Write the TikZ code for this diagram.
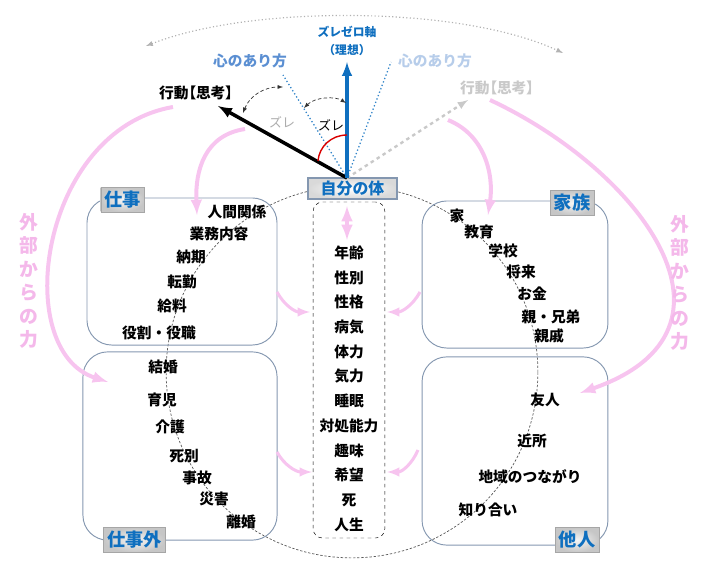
\documentclass[tikz,border=0pt]{standalone}
\usepackage{fontspec}
\setmainfont{Noto Sans CJK JP}

\definecolor{ideal}{HTML}{0F6FBF}
\definecolor{mindA}{HTML}{5B8FD2}
\definecolor{mindB}{HTML}{B7CDEA}
\definecolor{boxline}{HTML}{8497B0}
\definecolor{pinkforce}{HTML}{F7C4EF}
\definecolor{pinktext}{HTML}{F4B8EA}
\definecolor{ghost}{HTML}{C9C9C9}

\begin{document}
\begin{tikzpicture}[
		x = 0.85pt, y = -0.85pt,
		item/.style = { font = \bfseries\fontsize{12.5}{14}\selectfont },
		groupbox/.style = { draw = boxline, rounded corners = 21pt, line width = 0.8pt },
		tagbox/.style = { draw = gray!70, inner color = gray!8, outer color = gray!45, text = ideal,
			font = \bfseries\fontsize{15.5}{17}\selectfont, minimum height = 21pt, inner xsep = 3pt, inner ysep = 1pt },
		force/.style = { draw = pinkforce, line width = 3.4pt, -latex },
		push/.style = { draw = pinkforce, line width = 2.6pt, -latex },
		sidetext/.style = { text = pinktext, font = \bfseries\fontsize{16}{20}\selectfont, align = center },
		acting/.style = { font = \bfseries\fontsize{12.5}{14}\selectfont\addfontfeature{RawFeature = +palt} }
	]
	\useasboundingbox (0,0) rectangle (709,567);

	\coordinate (swingl) at (146,46);
	\coordinate (swingr) at (563,53);
	\draw [gray!60, dotted, line width = 1pt, latex-latex] (swingl) .. controls (250,5) and (460,5) .. (swingr);

	\draw [black!65, dash pattern = on 2pt off 1.5pt, line width = 0.6pt] (352,372) circle [radius = 158pt];

	\node [groupbox, minimum width = 161.5pt, minimum height = 125pt] (work) at (182,271.5) {};
	\node [groupbox, minimum width = 165pt, minimum height = 160pt] (private) at (180,446) {};
	\node [groupbox, minimum width = 158pt, minimum height = 125pt] (family) at (515,274.5) {};
	\node [groupbox, minimum width = 158pt, minimum height = 160pt] (others) at (515,451) {};

	\node [tagbox] (worktag) at (122.5,199.5) { 仕事 };
	\node [tagbox] (privatetag) at (134.5,540) { 仕事外 };
	\node [tagbox] (familytag) at (572,203) { 家族 };
	\node [tagbox] (otherstag) at (577,540) { 他人 };

	\node [draw, dashed, rounded corners = 8pt, minimum width = 61pt, minimum height = 285.6pt] (self) at (349,370) {};
	\node [draw = boxline, line width = 1pt, inner color = white, outer color = gray!30, text = ideal,
		font = \bfseries\fontsize{13.5}{15}\selectfont, minimum width = 75.6pt, minimum height = 17.9pt,
		inner sep = 0pt] (body) at (352.5,188.5) { 自分の体 };

	\coordinate (o) at (347,178);
	\coordinate (zero) at (347,62);
	\coordinate (mindl) at (283,75);
	\coordinate (mindr) at (391,62);
	\coordinate (act) at (218,106);
	\coordinate (actr) at (468,100);

	\draw [ideal!85, dotted, line width = 1.1pt] (o) -- (mindl);
	\draw [ideal!85, dotted, line width = 1.1pt] (o) -- (mindr);
	\draw [ghost, dashed, line width = 2pt, -latex] (o) -- (actr);
	\draw [line width = 3pt, -latex] (o) -- (act);
	\draw [ideal, line width = 3pt, -latex] (o) -- (zero);

	\node [text = ideal, font = \bfseries\fontsize{10}{15}\selectfont, align = center] (zerotext) at (347,41) { ズレゼロ軸\\（理想） };
	\node [text = mindA, font = \bfseries\fontsize{12.5}{14}\selectfont] (mindltext) at (250,61) { 心のあり方 };
	\node [text = mindB, font = \bfseries\fontsize{12.5}{14}\selectfont] (mindrtext) at (435,61) { 心のあり方 };
	\node [acting] (acttext) at (196,93) { 行動【思考】 };
	\node [acting, text = ghost] (actrtext) at (497,88) { 行動【思考】 };

	\coordinate (gapla) at (243,113);
	\coordinate (gaplb) at (283,87);
	\coordinate (gapa) at (304,108);
	\coordinate (gapb) at (346,103);
	\draw [black!80, densely dashed, line width = 0.6pt, latex-latex] (gapla) .. controls (250,95) and (265,87) .. (gaplb);
	\draw [black!80, densely dashed, line width = 0.6pt, latex-latex] (gapa) .. controls (315,97) and (335,96) .. (gapb);
	\node [text = gray!65, font = \fontsize{11}{13}\selectfont] (gapltext) at (282,122) { ズレ };
	\node [font = \fontsize{11}{13}\selectfont] (gaptext) at (331,125) { ズレ };

	\coordinate (reda) at (347,135);
	\coordinate (redb) at (318,161);
	\draw [red!85!black, line width = 1.2pt] (reda) .. controls (331,135) and (319,147) .. (redb);

	\coordinate (lifta) at (347,206);
	\coordinate (liftb) at (347,240);
	\draw [pinkforce, line width = 3.4pt, latex-latex] (lifta) -- (liftb);

	\foreach \txt [count = \i] in { 年齢, 性別, 性格, 病気, 体力, 気力, 睡眠, 対処能力, 趣味, 希望, 死, 人生 }
		\node [item] (c\i) at (349,228.3+24.7*\i) { \txt };

	\foreach \txt/\px/\py [count = \i] in { 人間関係/237/212, 業務内容/219/234, 納期/191/257, 転勤/182/282, 給料/172/306, 役割・役職/159/333 }
		\node [item] (w\i) at (\px,\py) { \txt };
	\foreach \txt/\px/\py [count = \i] in { 結婚/163/367, 育児/162/400, 介護/170/427, 死別/184/456, 事故/197/478, 災害/214/499, 離婚/241/522 }
		\node [item] (p\i) at (\px,\py) { \txt };
	\foreach \txt/\px/\py [count = \i] in { 家/457/216, 教育/479/232, 学校/503/251, 将来/521/272, お金/532/294, 親・兄弟/551/317, 親戚/549/336 }
		\node [item] (f\i) at (\px,\py) { \txt };
	\foreach \txt/\px/\py [count = \i] in { 友人/545/400, 近所/532/441, 地域のつながり/530/477, 知り合い/488/510 }
		\node [item] (n\i) at (\px,\py) { \txt };

	\coordinate (bigls) at (173,107);
	\coordinate (bigle) at (108,382);
	\coordinate (bigrs) at (490,100);
	\coordinate (bigre) at (580,393);
	\coordinate (smalls) at (245,129);
	\coordinate (smalle) at (197,215);
	\coordinate (smallrs) at (448,120);
	\coordinate (smallre) at (488,215);
	\draw [force] (bigls) .. controls (40,130) and (10,350) .. (bigle);
	\draw [force] (bigrs) .. controls (640,170) and (760,330) .. (bigre);
	\draw [force] (smalls) .. controls (205,135) and (195,170) .. (smalle);
	\draw [force] (smallrs) .. controls (485,135) and (494,175) .. (smallre);

	\coordinate (pushla) at (277,292);
	\coordinate (pushlb) at (310,312);
	\coordinate (pushlc) at (277,452);
	\coordinate (pushld) at (312,472);
	\coordinate (pushra) at (420,292);
	\coordinate (pushrb) at (387,312);
	\coordinate (pushrc) at (418,450);
	\coordinate (pushrd) at (387,472);
	\draw [push] (pushla) .. controls (284,305) and (295,312) .. (pushlb);
	\draw [push] (pushlc) .. controls (284,465) and (296,472) .. (pushld);
	\draw [push] (pushra) .. controls (413,305) and (402,312) .. (pushrb);
	\draw [push] (pushrc) .. controls (412,464) and (402,472) .. (pushrd);

	\node [sidetext] (forcel) at (29,281) { 外\\部\\か\\ら\\の\\力 };
	\node [sidetext] (forcer) at (680,283) { 外\\部\\か\\ら\\の\\力 };
\end{tikzpicture}
\end{document}
